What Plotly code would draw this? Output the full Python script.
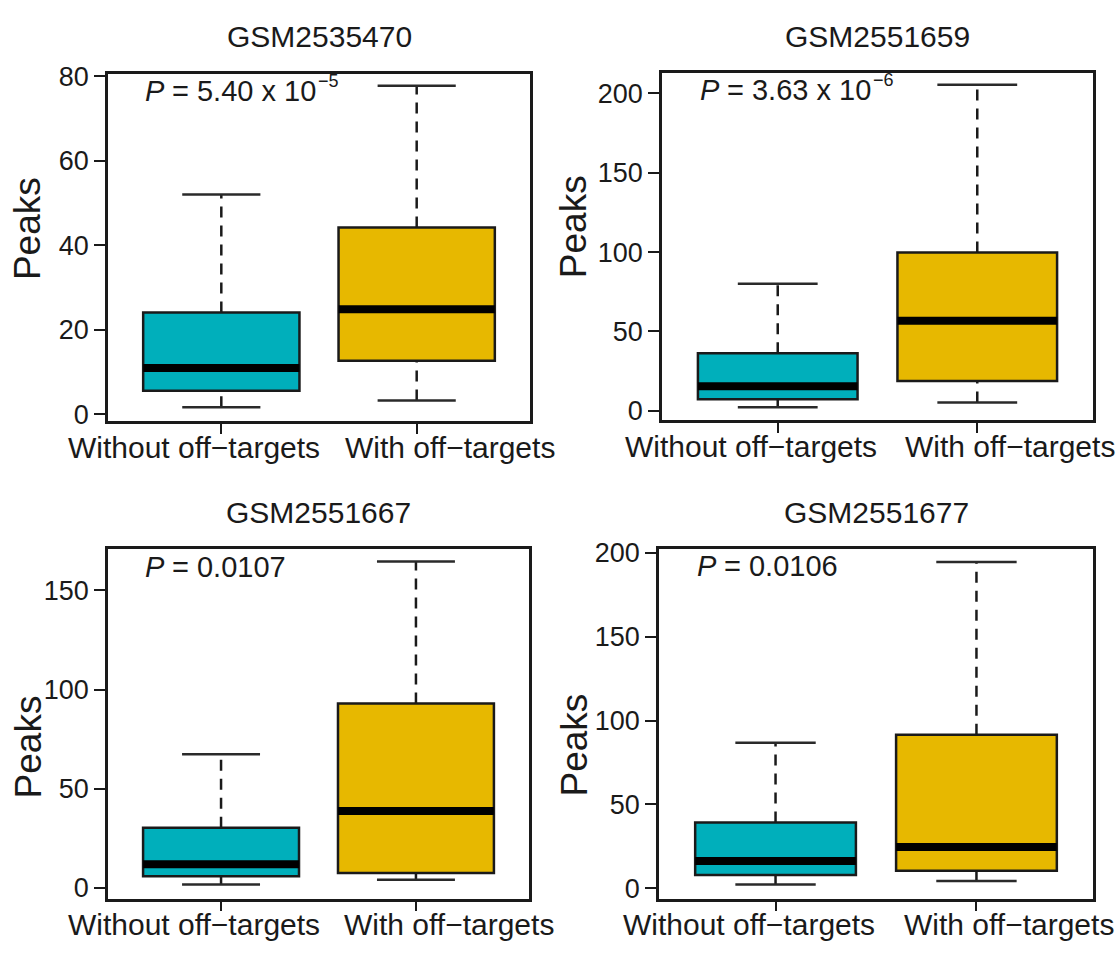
import plotly.graph_objects as go

# ---- data -------------------------------------------------------------
samples = ["GSM2535470", "GSM2551659", "GSM2551667", "GSM2551677"]
groups = ["Without off−targets", "With off−targets"]
# P-value text: mantissa part and optional power-of-ten exponent
p_main = ["= 5.40 x 10", "= 3.63 x 10", "= 0.0107", "= 0.0106"]
p_exp = ["−5", "−6", "", ""]

# per sample: [lower whisker, Q1, median, Q3, upper whisker]
stats_without = [
    [1.7, 5.6, 11.0, 24.1, 52.0],
    [2.3, 7.2, 15.4, 36.2, 80.1],
    [1.8, 5.9, 12.0, 30.4, 67.4],
    [2.2, 7.8, 16.2, 39.1, 86.8],
]
stats_with = [
    [3.3, 12.7, 24.9, 44.2, 77.7],
    [5.2, 18.7, 56.7, 99.7, 205.5],
    [4.1, 7.5, 38.8, 93.0, 164.5],
    [4.3, 10.3, 24.5, 91.5, 194.6],
]

y_ticks = [
    [0, 20, 40, 60, 80],
    [0, 50, 100, 150, 200],
    [0, 50, 100, 150],
    [0, 50, 100, 150, 200],
]

# ---- styling / layout ------------------------------------------------
W, H = 1119, 953
FONT = "Liberation Sans, Arial, Helvetica, sans-serif"
INK = "#1a1a1a"
fills = ["#00AFBB", "#E7B800"]

# panel rectangles in pixels: (left, right, top, bottom)
panels = [
    (108, 530, 63, 418),
    (662, 1093, 62.5, 417.5),
    (108, 529, 549, 906.5),
    (659, 1093, 549, 906.5),
]
y_ranges = [(-1.5, 80.6), (-6.0, 212.8), (-5.3, 170.9), (-6.2, 202.4)]
ylabel_pos = [(27.5, 221.5), (573, 220), (28.5, 751.5), (574, 750)]
ptext_pos = [(143, 81), (698, 80), (143, 567), (695, 566)]

P_SIZE = 29
EXP_SIZE = 18
# Liberation Sans advance widths (em) used to chain the P-value pieces
ADV = {"P": 0.667, " ": 0.278, "=": 0.584, ".": 0.278, "x": 0.5, "−": 0.584}


def text_width(s, size):
    return sum(ADV.get(c, 0.556) for c in s) * size


def fx(px):
    return px / W


def fy(py):
    return 1 - py / H


fig = go.Figure()
annotations = []
BOX_HALF = 0.4
CAP_HALF = 0.2

for i in range(4):
    xa = "x" if i == 0 else f"x{i + 1}"
    ya = "y" if i == 0 else f"y{i + 1}"
    for g, stats in enumerate([stats_without[i], stats_with[i]]):
        pos = g + 1
        lw, q1, med, q3, uw = stats
        fig.add_trace(go.Box(
            x=[pos], q1=[q1], median=[med], q3=[q3],
            lowerfence=[q1], upperfence=[q3],
            width=2 * BOX_HALF, whiskerwidth=0,
            fillcolor=fills[g], line=dict(color=INK, width=2.5),
            boxpoints=False, xaxis=xa, yaxis=ya,
            showlegend=False, hoverinfo="skip",
        ))
        # dashed whiskers
        fig.add_trace(go.Scatter(
            x=[pos, pos, None, pos, pos], y=[q3, uw, None, lw, q1],
            mode="lines", line=dict(color=INK, width=2.5, dash="11px,8px"),
            xaxis=xa, yaxis=ya, showlegend=False, hoverinfo="skip",
        ))
        # whisker caps
        fig.add_trace(go.Scatter(
            x=[pos - CAP_HALF, pos + CAP_HALF, None, pos - CAP_HALF, pos + CAP_HALF],
            y=[uw, uw, None, lw, lw],
            mode="lines", line=dict(color="#2a2a2a", width=2.5),
            xaxis=xa, yaxis=ya, showlegend=False, hoverinfo="skip",
        ))
        # thick median bar
        fig.add_trace(go.Scatter(
            x=[pos - BOX_HALF, pos + BOX_HALF], y=[med, med],
            mode="lines", line=dict(color="black", width=8),
            xaxis=xa, yaxis=ya, showlegend=False, hoverinfo="skip",
        ))

    l, r, t, b = panels[i]
    axis_common = dict(
        showline=True, mirror=True, linecolor=INK, linewidth=2.5,
        showgrid=False, zeroline=False, ticks="outside",
        tickcolor=INK, tickwidth=2, fixedrange=True,
    )
    fig.update_layout({
        ("xaxis" if i == 0 else f"xaxis{i + 1}"): dict(
            domain=[fx(l), fx(r)], range=[0.42, 2.58],
            tickvals=[1, 2], showticklabels=False, ticklen=10,
            anchor=ya, **axis_common,
        ),
        ("yaxis" if i == 0 else f"yaxis{i + 1}"): dict(
            domain=[fy(b), fy(t)], range=list(y_ranges[i]),
            tickvals=y_ticks[i], ticklen=11,
            tickfont=dict(size=27, color=INK, family=FONT),
            anchor=xa, **axis_common,
        ),
    })

    # panel title
    annotations.append(dict(
        text=samples[i], x=fx((l + r) / 2), y=fy(t - 37.5),
        xref="paper", yref="paper", xanchor="center", yanchor="middle",
        showarrow=False, font=dict(size=30, color=INK, family=FONT),
    ))
    # y-axis title
    annotations.append(dict(
        text="Peaks", x=fx(ylabel_pos[i][0]), y=fy(ylabel_pos[i][1]),
        xref="paper", yref="paper", xanchor="center", yanchor="middle",
        textangle=-90, showarrow=False,
        font=dict(size=37, color=INK, family=FONT),
    ))
    # group labels under the axis
    span = r - l
    centers = [l + 0.58 * span / 2.16 - 27, l + 1.58 * span / 2.16 + 33]
    for g in range(2):
        annotations.append(dict(
            text=groups[g], x=fx(centers[g]), y=fy(b + 27),
            xref="paper", yref="paper", xanchor="center", yanchor="middle",
            showarrow=False, font=dict(size=30, color=INK, family=FONT),
        ))
    # P-value: italic P, then the value, then the exponent raised
    px0, py0 = ptext_pos[i]
    annotations.append(dict(
        text="P", x=fx(px0), y=fy(py0),
        xref="paper", yref="paper", xanchor="left", yanchor="middle",
        showarrow=False,
        font=dict(size=P_SIZE, color=INK, family=FONT, style="italic"),
    ))
    x_main = px0 + text_width("P ", P_SIZE)
    annotations.append(dict(
        text=p_main[i], x=fx(x_main), y=fy(py0),
        xref="paper", yref="paper", xanchor="left", yanchor="middle",
        showarrow=False, font=dict(size=P_SIZE, color=INK, family=FONT),
    ))
    if p_exp[i]:
        x_exp = x_main + text_width(p_main[i], P_SIZE) + 1
        annotations.append(dict(
            text=p_exp[i], x=fx(x_exp), y=fy(py0 - 10),
            xref="paper", yref="paper", xanchor="left", yanchor="middle",
            showarrow=False, font=dict(size=EXP_SIZE, color=INK, family=FONT),
        ))

fig.update_layout(
    width=W, height=H,
    margin=dict(l=0, r=0, t=0, b=0),
    paper_bgcolor="white", plot_bgcolor="white",
    boxmode="overlay",
    annotations=annotations,
    font=dict(family=FONT, color=INK),
)

fig.write_html("out.html")
